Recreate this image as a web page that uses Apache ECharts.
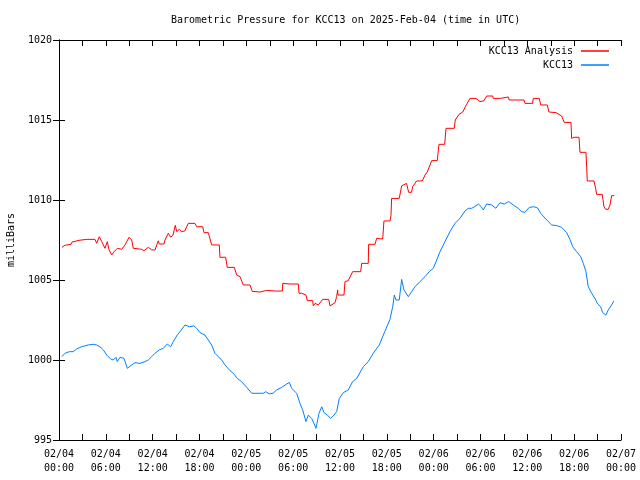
<!DOCTYPE html>
<html><head><meta charset="utf-8">
<script src="https://cdn.jsdelivr.net/npm/echarts@6/dist/echarts.min.js"></script>
<style>html,body{margin:0;padding:0;background:#fff}#c{width:640px;height:480px}</style>
</head><body><div id="c"></div>
<script>
// hours since 2025-02-04 00:00 UTC
const analysisHours = [0.38,0.77,1.54,1.67,2.56,3.55,4.61,4.83,5.16,5.47,5.89,6.19,6.41,6.75,7.05,7.47,8.03,8.46,8.67,8.97,9.31,9.52,10.59,10.89,11.44,11.88,12.30,12.72,12.85,13.45,13.58,14.00,14.31,14.60,14.90,15.08,15.41,15.72,16.14,16.36,16.56,17.42,17.64,18.41,18.58,19.13,19.56,20.54,20.62,21.35,21.56,22.46,22.76,23.19,23.61,24.47,24.76,25.75,26.61,27.67,28.61,28.66,29.59,30.66,30.75,31.09,31.64,31.81,32.50,32.58,32.80,33.22,33.78,34.55,34.72,34.93,35.36,35.57,35.70,35.74,36.51,36.64,37.06,37.28,37.62,38.65,38.77,39.62,39.67,40.48,40.70,41.47,41.63,42.40,42.53,42.61,43.59,43.90,44.53,44.74,44.79,45.17,45.31,45.82,46.54,46.89,47.18,47.75,48.46,48.68,49.41,49.58,50.64,50.77,51.24,51.72,52.23,52.65,53.42,53.93,54.44,54.79,55.56,55.63,56.58,56.71,57.56,57.68,59.57,59.70,60.68,60.76,61.53,61.71,62.55,62.77,63.67,63.84,64.40,64.73,65.59,65.68,65.97,66.62,66.74,67.51,67.60,67.68,68.54,68.75,68.88,69.60,69.82,70.03,70.37,70.59,70.80,71.14];
const analysisValues = [1007.04,1007.17,1007.23,1007.37,1007.48,1007.54,1007.54,1007.29,1007.70,1007.40,1006.98,1007.40,1006.88,1006.56,1006.77,1006.98,1006.92,1007.19,1007.08,1007.67,1007.50,1006.98,1006.92,1006.83,1007.04,1006.88,1006.88,1007.45,1007.25,1007.25,1007.50,1007.92,1007.67,1007.80,1008.42,1008.02,1008.17,1008.02,1008.08,1008.33,1008.54,1008.54,1008.33,1008.33,1007.96,1007.96,1007.19,1007.19,1006.42,1006.42,1005.79,1005.79,1005.31,1005.21,1004.69,1004.69,1004.29,1004.25,1004.35,1004.31,1004.31,1004.79,1004.75,1004.75,1004.17,1004.17,1004.06,1003.71,1003.71,1003.38,1003.54,1003.44,1003.79,1003.79,1003.38,1003.29,1003.58,1003.96,1004.38,1004.06,1004.06,1004.90,1004.96,1004.85,1005.52,1005.52,1006.04,1006.04,1007.23,1007.23,1007.60,1007.56,1008.69,1008.69,1009.02,1010.10,1010.10,1010.88,1011.04,1011.04,1010.48,1010.48,1010.83,1011.19,1011.19,1011.56,1011.75,1012.46,1012.46,1013.48,1013.48,1014.48,1014.48,1015.00,1015.35,1015.50,1015.98,1016.35,1016.35,1016.15,1016.20,1016.50,1016.50,1016.35,1016.35,1016.44,1016.44,1016.25,1016.25,1016.04,1016.04,1016.35,1016.35,1015.94,1015.94,1015.50,1015.46,1015.35,1015.25,1014.85,1014.85,1013.85,1013.92,1013.92,1012.98,1012.98,1012.08,1011.19,1011.19,1010.73,1010.35,1010.35,1009.58,1009.42,1009.42,1009.69,1010.27,1010.27];
const stationHours = [0.38,0.77,1.32,1.83,2.27,2.91,3.75,4.39,4.83,5.25,5.68,6.11,6.62,6.96,7.30,7.47,7.81,8.03,8.33,8.75,9.31,9.74,10.38,11.02,11.44,11.88,12.30,12.85,13.36,13.87,14.31,14.64,15.15,15.50,16.14,16.69,17.29,17.64,18.06,18.70,19.13,19.56,19.98,20.41,20.84,21.27,21.91,22.33,22.84,23.40,24.05,24.69,26.17,26.48,26.94,27.42,27.89,28.53,29.17,29.50,29.81,30.45,30.87,31.22,31.64,31.94,32.37,32.67,32.92,33.14,33.31,33.66,33.95,34.37,34.81,35.23,35.57,35.91,36.42,37.06,37.62,38.14,38.98,39.62,40.26,41.03,41.76,42.40,42.75,42.96,43.17,43.59,43.90,44.19,44.75,45.18,45.61,46.25,46.89,47.44,47.95,48.39,48.81,49.45,50.09,50.73,51.37,52.01,52.43,52.87,53.29,53.72,54.06,54.36,54.79,55.43,55.98,56.49,57.04,57.61,58.20,58.84,59.27,59.70,60.25,60.85,61.32,61.71,62.13,62.68,63.12,63.76,64.40,65.04,65.46,65.81,66.32,66.83,67.17,67.51,67.81,68.24,68.66,69.01,69.39,69.65,70.07,70.37,70.80,71.10];
const stationValues = [1000.21,1000.42,1000.52,1000.52,1000.69,1000.83,1000.94,1000.98,1000.94,1000.83,1000.63,1000.31,1000.06,1000.00,1000.17,999.90,1000.17,1000.21,1000.10,999.48,999.69,999.83,999.79,999.90,1000.00,1000.21,1000.42,1000.63,1000.73,1001.00,1000.83,1001.15,1001.56,1001.77,1002.19,1002.08,1002.13,1001.98,1001.71,1001.56,1001.25,1000.94,1000.42,1000.21,1000.00,999.69,999.33,999.17,998.85,998.64,998.29,997.92,997.92,998.02,997.88,997.92,998.13,998.29,998.50,998.60,998.23,997.92,997.29,996.88,996.15,996.56,996.35,996.04,995.73,996.25,996.67,997.08,996.71,996.56,996.35,996.56,996.77,997.60,997.96,998.13,998.65,998.85,999.58,999.90,1000.42,1000.94,1001.80,1002.54,1003.33,1004.06,1003.75,1003.75,1005.04,1004.38,1003.96,1004.27,1004.58,1004.90,1005.21,1005.52,1005.73,1006.25,1006.77,1007.40,1008.02,1008.54,1008.85,1009.31,1009.48,1009.48,1009.60,1009.75,1009.60,1009.38,1009.75,1009.69,1009.48,1009.83,1009.75,1009.90,1009.69,1009.48,1009.27,1009.23,1009.54,1009.58,1009.50,1009.17,1008.94,1008.65,1008.44,1008.40,1008.29,1007.96,1007.54,1007.08,1006.77,1006.46,1006.04,1005.52,1004.58,1004.17,1003.85,1003.50,1003.33,1002.96,1002.81,1003.13,1003.44,1003.69];
const seriesNames = ['KCC13 Analysis', 'KCC13'];
const titleText = 'Barometric Pressure for KCC13 on 2025-Feb-04 (time in UTC)';
const yAxisName = 'milliBars';
const xMin = 0, xMax = 72, xStep = 3;
const yMin = 995, yMax = 1020, yStep = 5;

const FONT = 'DejaVu Sans Mono';
function pad(n){return (n<10?'0':'')+n;}
function xLabel(v){
  if (v % 6 !== 0) return '';
  const day = 4 + Math.floor(v/24), hr = v % 24;
  return '02/' + pad(day) + '\n' + pad(hr) + ':00';
}
const zip = (a,b) => a.map((x,i)=>[x,b[i]]);
const chart = echarts.init(document.getElementById('c'), null, {renderer:'canvas'});
const axisCommon = {
  axisLine:{show:true,lineStyle:{color:'#000',width:1}},
  axisTick:{show:true,inside:true,length:6,lineStyle:{color:'#000',width:1}},
  splitLine:{show:false}
};
const legendText = {fontFamily:FONT,fontSize:10,color:'#000',padding:[0,3,0,0]};
chart.setOption({
  animation:false,
  backgroundColor:'#fff',
  title:{text:titleText,left:166,top:10,textStyle:{fontFamily:FONT,fontSize:10,fontWeight:'normal',color:'#000'}},
  legend:[
    {data:[seriesNames[0]],right:26,top:41,align:'right',icon:'rect',itemWidth:28,itemHeight:1.5,
     textStyle:legendText},
    {data:[seriesNames[1]],right:26,top:55,align:'right',icon:'rect',itemWidth:28,itemHeight:1.5,
     textStyle:legendText}
  ],
  grid:{left:59,right:19,top:40,bottom:40,containLabel:false,outerBoundsMode:'none'},
  xAxis:[
    Object.assign({type:'value',min:xMin,max:xMax,interval:xStep,position:'bottom',
      axisLabel:{formatter:xLabel,fontFamily:FONT,fontSize:10,color:'#000',margin:7,lineHeight:14,showMinLabel:true,showMaxLabel:true}},axisCommon),
    Object.assign({type:'value',min:xMin,max:xMax,interval:xStep,position:'top',axisLabel:{show:false}},axisCommon)
  ],
  yAxis:[
    Object.assign({type:'value',min:yMin,max:yMax,interval:yStep,position:'left',
      name:yAxisName,nameLocation:'middle',nameGap:43,nameRotate:90,
      nameTextStyle:{fontFamily:FONT,fontSize:10,color:'#000'},
      axisLabel:{formatter:v=>String(v),fontFamily:FONT,fontSize:10,color:'#000',margin:7}},axisCommon),
    Object.assign({type:'value',min:yMin,max:yMax,interval:yStep,position:'right',axisLabel:{show:false}},axisCommon)
  ],
  series:[
    {name:seriesNames[0],type:'line',data:zip(analysisHours,analysisValues),showSymbol:false,symbol:'none',
     lineStyle:{color:'#ff0000',width:1},itemStyle:{color:'#ff0000'}},
    {name:seriesNames[1],type:'line',data:zip(stationHours,stationValues),showSymbol:false,symbol:'none',
     lineStyle:{color:'#0080ff',width:1},itemStyle:{color:'#0080ff'}}
  ]
});
</script></body></html>
